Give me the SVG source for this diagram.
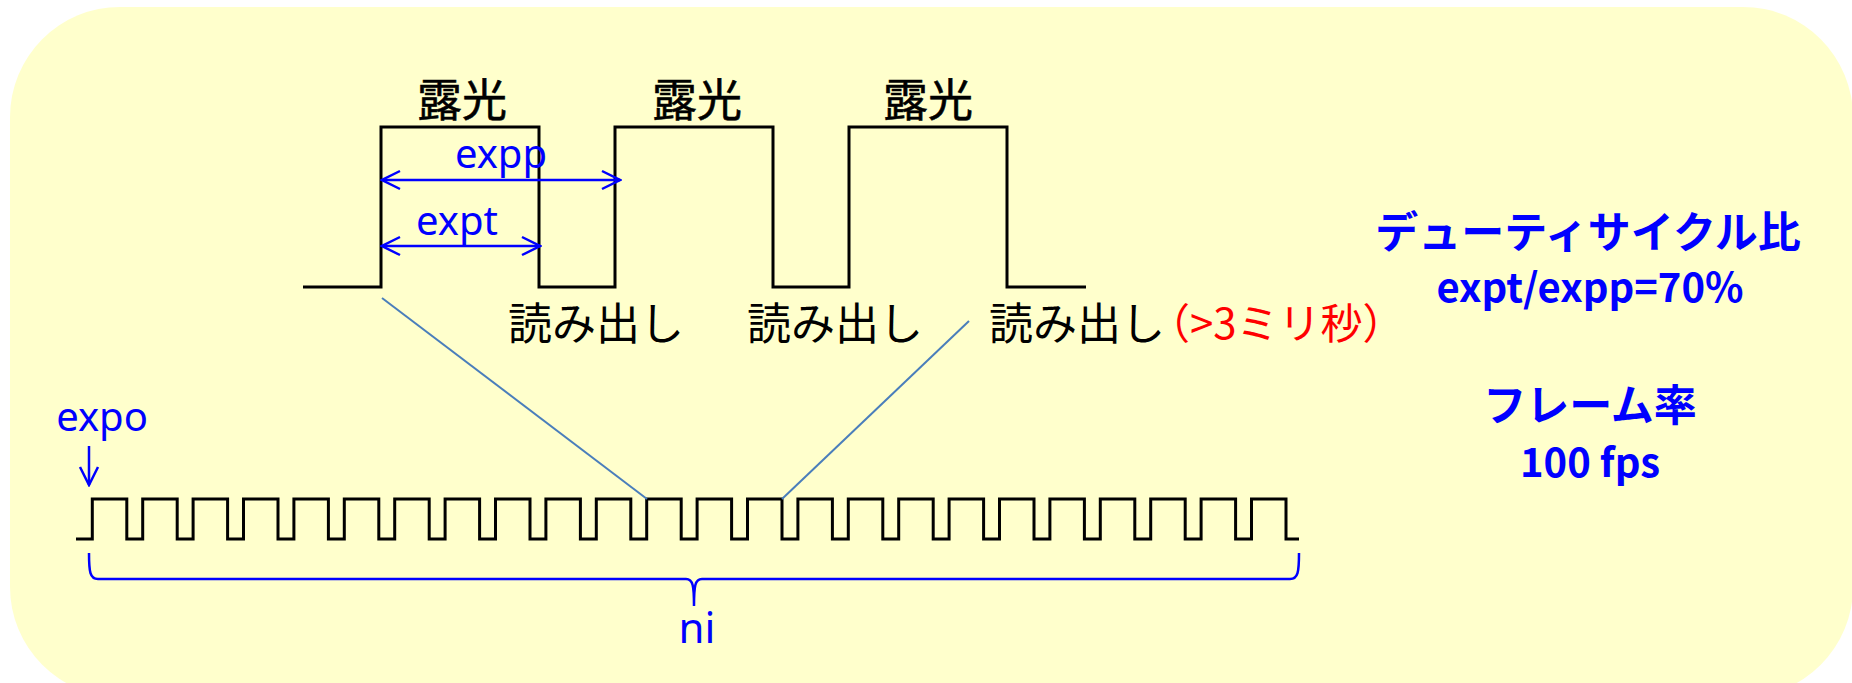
<svg xmlns="http://www.w3.org/2000/svg" width="1852" height="683" viewBox="0 0 1852 683">
  <style>
    .wave { fill: none; stroke: #000; stroke-width: 3; stroke-linejoin: miter; }
    .dim { fill: none; stroke: #0000FF; stroke-width: 2.5; }
    .zoomline { fill: none; stroke: #4A7EBB; stroke-width: 2; }
    .jp { font-family: "Noto Sans CJK JP", "Noto Sans", sans-serif; fill: #000; }
    .lbl { font-family: "Noto Sans", "Liberation Sans", sans-serif; fill: #0000FF; }
    .note { font-family: "Noto Sans CJK JP", "Noto Sans", sans-serif; fill: #0000FF; font-weight: bold; text-anchor: middle; }
    .red { font-family: "Noto Sans CJK JP", "Noto Sans", sans-serif; fill: #FF0000; }
  </style>
  <defs>
    <marker id="chev" viewBox="-22 -12 24 24" refX="0" refY="0" markerWidth="24" markerHeight="24" markerUnits="userSpaceOnUse" orient="auto-start-reverse">
      <path d="M-18,-9 L0,0 L-18,9" fill="none" stroke="#0000FF" stroke-width="2.5"/>
    </marker>
  </defs>

  <!-- panel background -->
  <rect x="10" y="7" width="1843" height="690" rx="110" ry="110" fill="#FFFFCC"/>

  <!-- exposure / readout timing -->
  <g id="exposure-wave">
    <path class="wave" d="M303,287 H381 V127 H539 V287 H615 V127 H773 V287 H849 V127 H1007 V287 H1086"/>
    <text class="jp" x="462" y="117" font-size="45" text-anchor="middle" stroke="#000" stroke-width="0.6">露光</text>
    <text class="jp" x="697" y="117" font-size="45" text-anchor="middle" stroke="#000" stroke-width="0.6">露光</text>
    <text class="jp" x="928" y="117" font-size="45" text-anchor="middle" stroke="#000" stroke-width="0.6">露光</text>
  </g>

  <g id="readout-labels">
    <text class="jp" x="508" y="340" font-size="44">読み出し</text>
    <text class="jp" x="747" y="340" font-size="44">読み出し</text>
    <text class="jp" x="989" y="340" font-size="44">読み出し</text>
    <text class="red" x="1148" y="339" font-size="42">（&gt;3ミリ秒）</text>
  </g>

  <g id="expp">
    <path class="dim" d="M382,180 H620" marker-start="url(#chev)" marker-end="url(#chev)"/>
    <text class="lbl" x="501" y="168" font-size="40" text-anchor="middle">expp</text>
  </g>

  <g id="expt">
    <path class="dim" d="M382,246 H540" marker-start="url(#chev)" marker-end="url(#chev)"/>
    <text class="lbl" x="457" y="235" font-size="40" text-anchor="middle">expt</text>
  </g>

  <!-- frame pulse train -->
  <g id="frame-wave">
    <path class="wave" d="M76,539 H92.3 V499 H126.8 V539 H142.7 V499 H177.2 V539 H193.1 V499 H227.6 V539 H243.5 V499 H278 V539 H293.9 V499 H328.4 V539 H344.3 V499 H378.8 V539 H394.7 V499 H429.2 V539 H445.1 V499 H479.6 V539 H495.5 V499 H530 V539 H545.9 V499 H580.4 V539 H596.3 V499 H630.8 V539 H646.7 V499 H681.2 V539 H697.1 V499 H731.6 V539 H747.5 V499 H782 V539 H797.9 V499 H832.4 V539 H848.3 V499 H882.8 V539 H898.7 V499 H933.2 V539 H949.1 V499 H983.6 V539 H999.5 V499 H1034 V539 H1049.9 V499 H1084.4 V539 H1100.3 V499 H1134.8 V539 H1150.7 V499 H1185.2 V539 H1201.1 V499 H1235.6 V539 H1251.5 V499 H1286 V539 H1299"/>
  </g>

  <g id="expo">
    <text class="lbl" x="102" y="431" font-size="40" text-anchor="middle">expo</text>
    <path class="dim" d="M89,446 V485" marker-end="url(#chev)"/>
  </g>

  <g id="ni">
    <path class="dim" d="M89,553 C89,572 90,579 98,579 L686,579 C693,579 694,586 694,606 C694,586 695,579 702,579 L1290,579 C1298,579 1299,572 1299,553"/>
    <text class="lbl" x="697" y="643" font-size="42" text-anchor="middle">ni</text>
  </g>

  <g id="duty">
    <text class="note" x="1588" y="248" font-size="43">デューティサイクル比</text>
    <text class="note" x="1590" y="302" font-size="40" font-family="Noto Sans, sans-serif">expt/expp=70%</text>
  </g>

  <g id="framerate">
    <text class="note" x="1590" y="421" font-size="43">フレーム率</text>
    <text class="note" x="1590" y="477" font-size="40" font-family="Noto Sans, sans-serif">100 fps</text>
  </g>

  <!-- zoom guides from exposure cycle to pulse train -->
  <g id="connectors">
    <line class="zoomline" x1="382" y1="298" x2="647" y2="499"/>
    <line class="zoomline" x1="969" y1="321" x2="782" y2="499"/>
  </g>
</svg>
